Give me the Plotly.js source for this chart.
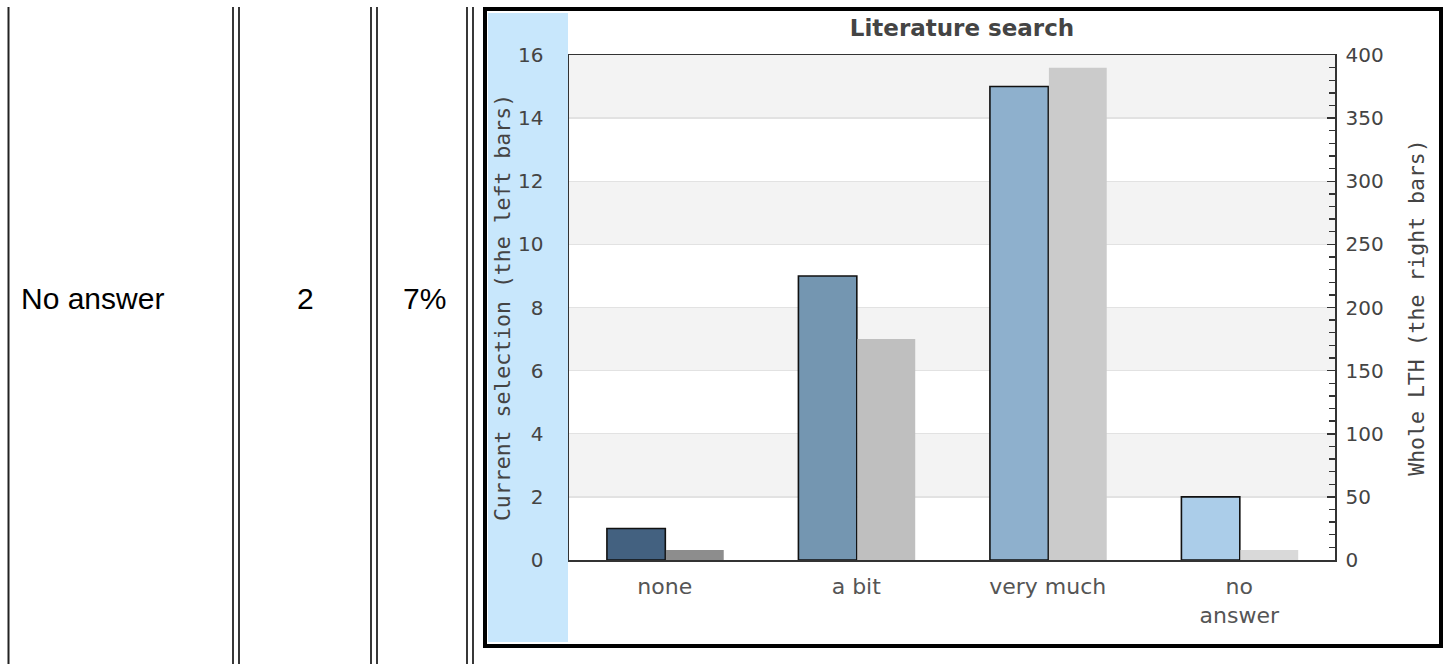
<!DOCTYPE html>
<html>
<head>
<meta charset="utf-8">
<script src="https://cdn.plot.ly/plotly-3.0.1.min.js"></script>
<style>
  html, body { margin: 0; padding: 0; background: #fff; }
  #chart { width: 1446px; height: 664px; }
</style>
</head>
<body>
<div id="chart"></div>
<script>
// ---- data ----
const categories = ['none', 'a bit', 'very much', 'no answer'];
const tickLabels = ['none', 'a bit', 'very much', 'no<br>answer'];
const currentSelection = [1, 9, 15, 2];     // left axis
const wholeLTH = [8, 175, 390, 8];          // right axis
const tableRow = ['No answer', '2', '7%'];
const leftTicks = [0, 2, 4, 6, 8, 10, 12, 14, 16];

// ---- styles ----
const leftColors = ['#436180', '#7496b1', '#8eb0cd', '#abcde9'];
const rightColors = ['#8d8d8d', '#bfbfbf', '#cbcbcb', '#d9d9d9'];
const W = 1446, H = 664;
const px = v => v / W;
const py = v => 1 - v / H;
const txt = '#444';

const traces = [
  {
    type: 'bar', x: categories, y: currentSelection, yaxis: 'y',
    width: 0.305, offset: -0.302,
    marker: { color: leftColors, line: { color: '#111', width: 1.6 } },
    hoverinfo: 'x+y', showlegend: false
  },
  {
    type: 'bar', x: categories, y: wholeLTH, yaxis: 'y2',
    width: 0.302, offset: 0.006,
    marker: { color: rightColors, line: { width: 0 } },
    hoverinfo: 'x+y', showlegend: false
  }
];

const shapes = [];
// table borders
shapes.push({ type: 'line', xref: 'paper', yref: 'paper', x0: px(8.5), x1: px(8.5), y0: py(7), y1: py(664), line: { color: '#222', width: 2 } });
[233, 239, 371, 377, 467, 473].forEach(x => {
  shapes.push({ type: 'line', xref: 'paper', yref: 'paper', x0: px(x), x1: px(x), y0: py(7), y1: py(664), line: { color: '#222', width: 1.8 } });
});
// light blue strip
shapes.push({ type: 'rect', xref: 'paper', yref: 'paper', x0: px(488), x1: px(568), y0: py(13), y1: py(642), fillcolor: '#c8e7fc', line: { width: 0 }, layer: 'below' });
// chart frame
shapes.push({ type: 'rect', xref: 'paper', yref: 'paper', x0: px(485), x1: px(1441), y0: py(9), y1: py(646), line: { color: '#000', width: 4 }, fillcolor: 'rgba(0,0,0,0)' });
// alternating bands
for (let i = 0; i + 1 < leftTicks.length; i++) {
  if (i % 2 === 1) {
    shapes.push({ type: 'rect', xref: 'x domain', yref: 'y', x0: 0, x1: 1, y0: leftTicks[i], y1: leftTicks[i + 1], fillcolor: '#f3f3f3', line: { width: 0 }, layer: 'below' });
  }
}

const tfont = { family: 'Liberation Sans, Arial, sans-serif', size: 30, color: '#000' };
const annotations = [
  { xref: 'paper', yref: 'paper', x: px(19), y: py(298), xanchor: 'left', yanchor: 'middle', text: tableRow[0], showarrow: false, font: tfont },
  { xref: 'paper', yref: 'paper', x: px(305), y: py(298), xanchor: 'center', yanchor: 'middle', text: tableRow[1], showarrow: false, font: tfont },
  { xref: 'paper', yref: 'paper', x: px(424), y: py(298), xanchor: 'center', yanchor: 'middle', text: tableRow[2], showarrow: false, font: tfont }
];

const layout = {
  width: W, height: H,
  margin: { l: 0, r: 0, t: 0, b: 0, pad: 0 },
  paper_bgcolor: '#fff', plot_bgcolor: '#fff',
  showlegend: false,
  title: {
    text: 'Literature search', x: px(962), xref: 'paper', xanchor: 'center',
    y: py(28), yref: 'paper', yanchor: 'middle',
    font: { family: 'DejaVu Sans', size: 23, color: txt, weight: 'bold' }
  },
  xaxis: {
    domain: [px(569), px(1335)],
    type: 'category', tickvals: categories, ticktext: tickLabels,
    range: [-0.5, 3.5],
    showline: true, linecolor: '#333', linewidth: 1.5, mirror: true,
    ticks: '', ticklabelstandoff: 6, showgrid: false, zeroline: false,
    tickfont: { family: 'DejaVu Sans', size: 22, color: '#555' },
    fixedrange: true
  },
  yaxis: {
    domain: [1 - 560 / H, 1 - 55 / H],
    range: [0, 16], tickvals: leftTicks,
    showline: true, linecolor: '#333', linewidth: 1.5,
    ticks: '', ticklabelstandoff: 20,
    showgrid: true, gridcolor: '#e2e2e2', gridwidth: 1.3, zeroline: false,
    tickfont: { family: 'DejaVu Sans', size: 20, color: txt },
    title: { text: 'Current selection (the left bars)', standoff: 1,
             font: { family: 'DejaVu Sans Mono', size: 21.5, color: txt } },
    fixedrange: true
  },
  yaxis2: {
    overlaying: 'y', side: 'right', anchor: 'x',
    range: [0, 400], dtick: 50,
    showline: true, linecolor: '#333', linewidth: 1.5,
    ticks: 'inside', ticklen: 8, tickwidth: 1.5, tickcolor: '#333',
    minor: { dtick: 10, ticks: 'inside', ticklen: 6, tickwidth: 1.3, tickcolor: '#333', showgrid: false },
    ticklabelstandoff: 5,
    showgrid: false, zeroline: false,
    tickfont: { family: 'DejaVu Sans', size: 20, color: txt },
    title: { text: 'Whole LTH (the right bars)', standoff: 26,
             font: { family: 'DejaVu Sans Mono', size: 21.5, color: txt } },
    fixedrange: true
  },
  bargap: 0.39,
  shapes: shapes,
  annotations: annotations
};

Plotly.newPlot('chart', traces, layout, { displayModeBar: false, staticPlot: true });
</script>
</body>
</html>
